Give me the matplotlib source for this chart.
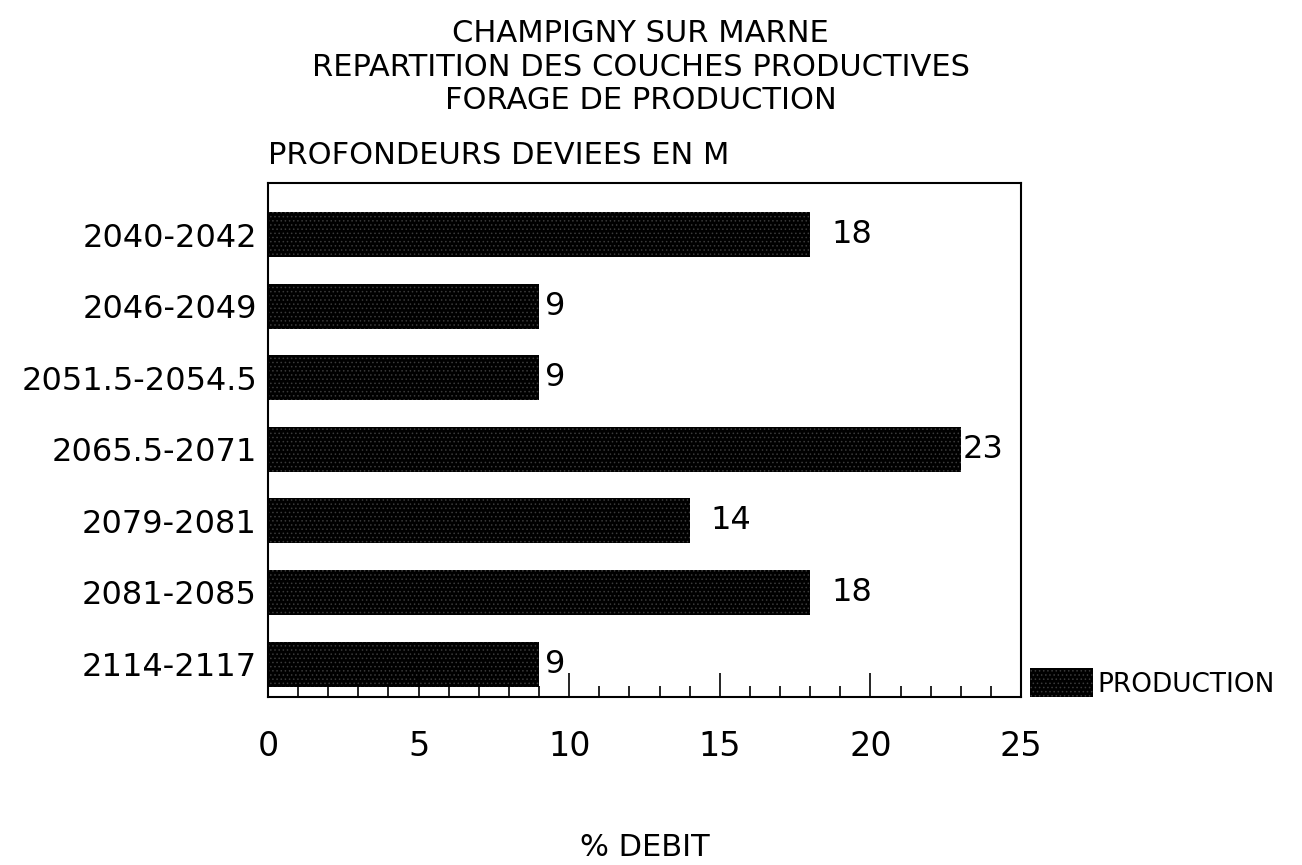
import numpy as np
import matplotlib
matplotlib.use("Agg")
import matplotlib.pyplot as plt

# data
depths = ["2040-2042", "2046-2049", "2051.5-2054.5", "2065.5-2071",
          "2079-2081", "2081-2085", "2114-2117"]
debit = [18, 9, 9, 23, 14, 18, 9]
label_gap = [0.7, 0.2, 0.2, 0.05, 0.7, 0.7, 0.2]   # gap between bar end and value text
x_ticks = [0, 5, 10, 15, 20, 25]

plt.rcParams['font.family'] = ['DejaVu Sans']
plt.rcParams['hatch.color'] = '#3a3a3a'
plt.rcParams['hatch.linewidth'] = 0.6

fig = plt.figure(figsize=(13.02, 8.65), dpi=100)
ax = fig.add_axes([268 / 1302, 1 - 697 / 865, (1021 - 268) / 1302, (697 - 183) / 865])

pos = np.arange(len(depths))
bars = ax.barh(pos, debit, height=0.63, color='black', hatch='....',
               edgecolor='#3a3a3a', linewidth=0, label='PRODUCTION')
for p, v, g in zip(pos, debit, label_gap):
    ax.text(v + g, p, str(v), va='center', ha='left', fontsize=23)

ax.set_xlim(0, 25)
ax.set_ylim(6.46, -0.72)
ax.set_yticks(pos)
ax.set_yticklabels(depths, fontsize=23)
ax.tick_params(axis='y', length=0, pad=8)
ax.set_xticks(x_ticks)
ax.set_xticklabels([str(t) for t in x_ticks], fontsize=24)
ax.set_xticks(np.arange(0, 26, 1), minor=True)
ax.tick_params(axis='x', which='major', direction='in', length=17, width=1.2, pad=24)
ax.tick_params(axis='x', which='minor', direction='in', length=8, width=1.2)
for s in ax.spines.values():
    s.set_linewidth(1.5)

# x axis title placed low like the original plotter output
fig.text(645 / 1302, 1 - 848 / 865, '% DEBIT', ha='center', va='center', fontsize=22)

fig.text(0.492, 0.978, "CHAMPIGNY SUR MARNE\nREPARTITION DES COUCHES PRODUCTIVES\nFORAGE DE PRODUCTION",
         ha='center', va='top', fontsize=22, linespacing=1.2)
fig.text(268 / 1302, 1 - 155 / 865, "PROFONDEURS DEVIEES EN M", ha='left', va='center', fontsize=22)

leg = fig.legend(loc='center left', bbox_to_anchor=(1030 / 1302, 1 - 683 / 865), frameon=False,
                 fontsize=19, handlelength=2.4, handleheight=1.3, handletextpad=0.15,
                 borderaxespad=0, borderpad=0)

plt.savefig('out.png', dpi=100)
